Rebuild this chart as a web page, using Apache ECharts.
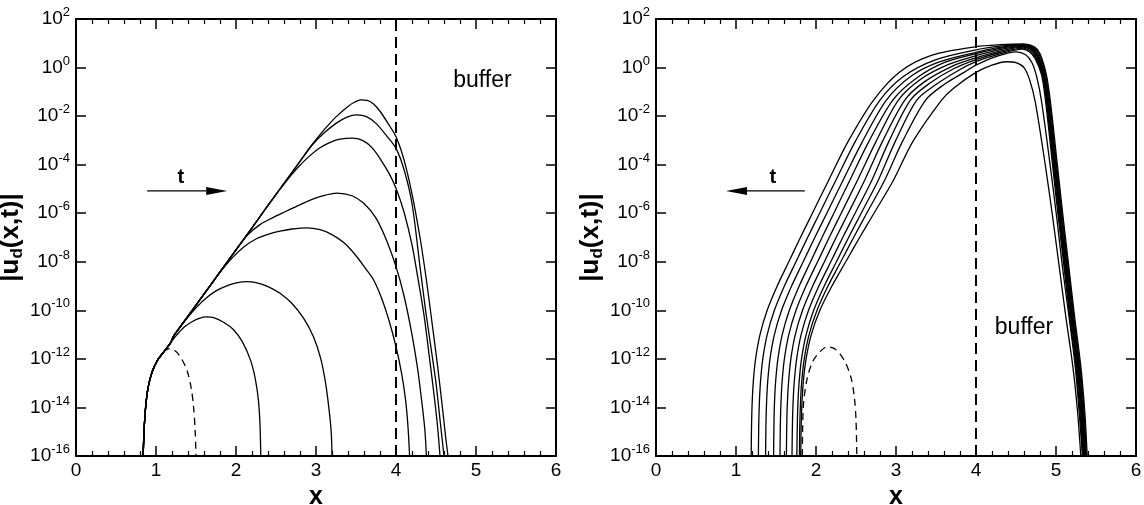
<!DOCTYPE html>
<html>
<head>
<meta charset="utf-8">
<script src="https://cdn.jsdelivr.net/npm/echarts@6/dist/echarts.min.js"></script>
<style>
  html, body { margin: 0; padding: 0; background: #fff; }
  #chart { width: 1144px; height: 505px; }
</style>
</head>
<body>
<div id="chart"></div>
<script>
// Every point is [x, log10 |u_d(x,t)|]; the y axes are drawn in decades.
const xRange = [0, 6];
const yRange = [-16, 2];
const bufferStart = 4;

// ---- left panel: initial pulse (dashed) and its growth in time ----
const leftInitial = [[0.84,-16],[0.85,-15],[0.87,-14],[0.9,-13.2],[0.95,-12.55],[1.02,-12.05],[1.1,-11.7],[1.17,-11.58],[1.25,-11.7],[1.32,-12.0],[1.39,-12.5],[1.44,-13.2],[1.47,-14.0],[1.49,-15.0],[1.5,-16]];

const leftT1 = [[0.84,-16],[0.85,-15],[0.87,-14],[0.9,-13.2],[0.95,-12.55],[1.02,-12.05],[1.1,-11.7],[1.18,-11.35],[1.25,-11.05],[1.35,-10.7],[1.45,-10.47],[1.55,-10.32],[1.63,-10.27],[1.72,-10.3],[1.85,-10.5],[1.97,-10.8],[2.08,-11.3],[2.18,-12.04],[2.24,-12.8],[2.28,-13.7],[2.3,-14.7],[2.31,-16]];

const leftT2 = [[0.84,-16],[0.85,-15],[0.87,-14],[0.9,-13.2],[0.95,-12.55],[1.02,-12.05],[1.1,-11.7],[1.18,-11.35],[1.22,-11.06],[1.3,-10.7],[1.4,-10.28],[1.5,-9.9],[1.6,-9.57],[1.75,-9.2],[1.9,-8.97],[2.02,-8.86],[2.13,-8.82],[2.25,-8.86],[2.4,-9.02],[2.55,-9.3],[2.7,-9.72],[2.85,-10.35],[2.97,-11.1],[3.06,-12.0],[3.12,-13.0],[3.16,-14.0],[3.19,-15.0],[3.2,-16]];

const leftT3 = [[0.84,-16],[0.85,-15],[0.87,-14],[0.9,-13.2],[0.95,-12.55],[1.02,-12.05],[1.1,-11.7],[1.18,-11.35],[1.22,-11.06],[1.4,-10.24],[1.6,-9.33],[1.8,-8.44],[1.95,-7.85],[2.1,-7.38],[2.25,-7.06],[2.4,-6.87],[2.55,-6.74],[2.7,-6.65],[2.88,-6.6],[3.05,-6.68],[3.2,-6.88],[3.35,-7.22],[3.5,-7.75],[3.62,-8.28],[3.72,-8.75],[3.82,-9.5],[3.92,-10.5],[4.0,-11.5],[4.07,-12.6],[4.12,-13.7],[4.15,-14.8],[4.17,-16]];

const leftT4 = [[0.84,-16],[0.85,-15],[0.87,-14],[0.9,-13.2],[0.95,-12.55],[1.02,-12.05],[1.1,-11.7],[1.18,-11.35],[1.22,-11.06],[1.4,-10.24],[1.6,-9.33],[1.8,-8.42],[2.0,-7.51],[2.15,-6.88],[2.3,-6.47],[2.45,-6.2],[2.6,-5.96],[2.75,-5.73],[2.9,-5.5],[3.05,-5.32],[3.26,-5.17],[3.45,-5.28],[3.6,-5.6],[3.75,-6.2],[3.88,-7.1],[4.0,-8.2],[4.1,-9.4],[4.2,-11.0],[4.27,-12.4],[4.32,-13.7],[4.36,-14.9],[4.38,-16]];

const leftT5 = [[0.84,-16],[0.85,-15],[0.87,-14],[0.9,-13.2],[0.95,-12.55],[1.02,-12.05],[1.1,-11.7],[1.18,-11.35],[1.22,-11.06],[1.4,-10.24],[1.6,-9.33],[1.8,-8.42],[2.0,-7.51],[2.2,-6.6],[2.4,-5.68],[2.6,-4.8],[2.75,-4.2],[2.9,-3.7],[3.05,-3.3],[3.2,-3.05],[3.32,-2.94],[3.45,-2.91],[3.58,-3.0],[3.7,-3.3],[3.82,-3.85],[3.92,-4.4],[4.0,-4.97],[4.1,-5.95],[4.2,-7.3],[4.27,-8.6],[4.35,-10.2],[4.42,-12.0],[4.48,-13.6],[4.52,-14.8],[4.55,-16]];

const leftT6 = [[0.84,-16],[0.85,-15],[0.87,-14],[0.9,-13.2],[0.95,-12.55],[1.02,-12.05],[1.1,-11.7],[1.18,-11.35],[1.22,-11.06],[1.4,-10.24],[1.6,-9.33],[1.8,-8.42],[2.0,-7.51],[2.2,-6.6],[2.4,-5.68],[2.6,-4.77],[2.8,-3.86],[2.95,-3.2],[3.1,-2.7],[3.25,-2.3],[3.38,-2.05],[3.51,-1.95],[3.63,-2.02],[3.75,-2.3],[3.88,-2.8],[4.0,-3.33],[4.1,-4.2],[4.2,-5.6],[4.3,-8.2],[4.37,-10.0],[4.44,-11.6],[4.5,-13.0],[4.55,-14.5],[4.6,-16]];

const leftT7 = [[0.84,-16],[0.85,-15],[0.87,-14],[0.9,-13.2],[0.95,-12.55],[1.02,-12.05],[1.1,-11.7],[1.18,-11.35],[1.22,-11.06],[1.4,-10.24],[1.6,-9.33],[1.8,-8.42],[2.0,-7.51],[2.2,-6.6],[2.4,-5.68],[2.6,-4.77],[2.8,-3.86],[2.95,-3.18],[3.1,-2.57],[3.25,-2.03],[3.4,-1.6],[3.48,-1.43],[3.56,-1.33],[3.64,-1.35],[3.72,-1.5],[3.8,-1.8],[3.9,-2.3],[4.0,-2.85],[4.1,-3.8],[4.2,-5.2],[4.3,-7.0],[4.38,-8.75],[4.45,-10.5],[4.52,-12.3],[4.58,-14.0],[4.62,-15.2],[4.65,-16]];

// ---- right panel: initial pulse (dashed) and the curves at later times ----
const rightInitial = [[1.83,-16],[1.832,-15],[1.845,-13.8],[1.89,-12.8],[1.96,-12.1],[2.05,-11.7],[2.14,-11.5],[2.25,-11.62],[2.36,-12.1],[2.44,-12.8],[2.48,-13.6],[2.5,-14.5],[2.51,-16]];

const rightT1 = [[1.81,-16],[1.813,-15],[1.822,-14],[1.84,-13],[1.876,-12],[1.941,-11],[2.049,-10],[2.199,-9],[2.372,-8],[2.545,-7],[2.725,-6],[2.97,-4.63],[3.21,-3.05],[3.57,-1.34],[3.72,-0.85],[4.0,-0.2],[4.2,0.1],[4.38,0.24],[4.5,0.2],[4.6,0.0],[4.67,-0.5],[4.74,-1.4],[4.87,-4.1],[4.96,-6.2],[5.04,-8.2],[5.12,-10.2],[5.21,-12.3],[5.27,-14.2],[5.31,-16]];

const rightT2 = [[1.793,-16],[1.796,-15],[1.804,-14],[1.82,-13],[1.853,-12],[1.914,-11],[2.013,-10],[2.15,-9],[2.31,-8],[2.47,-7],[2.634,-6],[2.86,-4.63],[3.08,-3.05],[3.37,-1.34],[3.6,-0.7],[3.85,-0.2],[4.0,0.1],[4.25,0.45],[4.5,0.65],[4.62,0.53],[4.7,0.2],[4.76,-0.4],[4.82,-1.4],[4.93,-4.1],[5.01,-6.2],[5.08,-8.2],[5.16,-10.2],[5.24,-12.3],[5.29,-14.2],[5.33,-16]];

const rightT3 = [[1.76,-16],[1.765,-15],[1.772,-14],[1.788,-13],[1.819,-12],[1.877,-11],[1.971,-10],[2.103,-9],[2.255,-8],[2.407,-7],[2.565,-6],[2.78,-4.63],[2.99,-3.05],[3.26,-1.34],[3.5,-0.7],[3.78,-0.12],[4.0,0.24],[4.3,0.56],[4.58,0.76],[4.67,0.64],[4.74,0.36],[4.82,-0.3],[4.87,-1.4],[4.96,-4.1],[5.03,-6.2],[5.1,-8.2],[5.17,-10.2],[5.25,-12.3],[5.3,-14.2],[5.34,-16]];

const rightT4 = [[1.7,-16],[1.704,-15],[1.711,-14],[1.727,-13],[1.758,-12],[1.814,-11],[1.907,-10],[2.036,-9],[2.185,-8],[2.334,-7],[2.489,-6],[2.7,-4.63],[2.91,-3.05],[3.18,-1.34],[3.42,-0.65],[3.72,-0.05],[4.0,0.33],[4.3,0.62],[4.59,0.8],[4.68,0.68],[4.75,0.4],[4.83,-0.3],[4.88,-1.4],[4.97,-4.1],[5.04,-6.2],[5.11,-8.2],[5.18,-10.2],[5.26,-12.3],[5.31,-14.2],[5.345,-16]];

const rightT5 = [[1.63,-16],[1.633,-15],[1.64,-14],[1.656,-13],[1.686,-12],[1.741,-11],[1.832,-10],[1.959,-9],[2.105,-8],[2.251,-7],[2.403,-6],[2.61,-4.63],[2.83,-3.05],[3.11,-1.34],[3.35,-0.6],[3.7,0.05],[4.0,0.4],[4.3,0.68],[4.59,0.84],[4.69,0.72],[4.76,0.44],[4.84,-0.3],[4.89,-1.4],[4.98,-4.1],[5.05,-6.2],[5.12,-8.2],[5.19,-10.2],[5.27,-12.3],[5.32,-14.2],[5.35,-16]];

const rightT6 = [[1.55,-16],[1.553,-15],[1.56,-14],[1.575,-13],[1.605,-12],[1.66,-11],[1.75,-10],[1.875,-9],[2.02,-8],[2.165,-7],[2.315,-6],[2.52,-4.63],[2.75,-3.05],[3.03,-1.34],[3.3,-0.5],[3.65,0.12],[4.0,0.49],[4.3,0.74],[4.59,0.87],[4.7,0.75],[4.765,0.47],[4.845,-0.3],[4.895,-1.4],[4.985,-4.1],[5.055,-6.2],[5.125,-8.2],[5.195,-10.2],[5.275,-12.3],[5.325,-14.2],[5.36,-16]];

const rightT7 = [[1.47,-16],[1.473,-15],[1.479,-14],[1.494,-13],[1.524,-12],[1.578,-11],[1.667,-10],[1.79,-9],[1.932,-8],[2.075,-7],[2.223,-6],[2.425,-4.63],[2.66,-3.05],[2.96,-1.34],[3.25,-0.45],[3.6,0.2],[4.0,0.57],[4.3,0.79],[4.59,0.9],[4.7,0.78],[4.77,0.5],[4.85,-0.3],[4.9,-1.4],[4.99,-4.1],[5.06,-6.2],[5.13,-8.2],[5.2,-10.2],[5.28,-12.3],[5.33,-14.2],[5.365,-16]];

const rightT8 = [[1.37,-16],[1.373,-15],[1.38,-14],[1.395,-13],[1.425,-12],[1.48,-11],[1.57,-10],[1.695,-9],[1.84,-8],[1.985,-7],[2.135,-6],[2.34,-4.63],[2.58,-3.05],[2.88,-1.34],[3.2,-0.33],[3.55,0.24],[4.0,0.63],[4.3,0.83],[4.59,0.92],[4.71,0.8],[4.78,0.52],[4.86,-0.3],[4.91,-1.4],[5.0,-4.1],[5.07,-6.2],[5.14,-8.2],[5.21,-10.2],[5.29,-12.3],[5.34,-14.2],[5.37,-16]];

const rightT9 = [[1.28,-16],[1.283,-15],[1.29,-14],[1.305,-13],[1.335,-12],[1.39,-11],[1.48,-10],[1.605,-9],[1.75,-8],[1.895,-7],[2.045,-6],[2.25,-4.63],[2.49,-3.05],[2.8,-1.34],[3.1,-0.35],[3.5,0.33],[4.0,0.73],[4.3,0.88],[4.59,0.945],[4.72,0.82],[4.79,0.55],[4.87,-0.3],[4.92,-1.4],[5.01,-4.1],[5.08,-6.2],[5.15,-8.2],[5.22,-10.2],[5.3,-12.3],[5.35,-14.2],[5.38,-16]];

const rightT10 = [[1.19,-16],[1.193,-15],[1.2,-14],[1.215,-13],[1.245,-12],[1.3,-11],[1.39,-10],[1.515,-9],[1.66,-8],[1.805,-7],[1.955,-6],[2.16,-4.63],[2.4,-3.05],[2.72,-1.34],[3.05,-0.17],[3.46,0.52],[4.0,0.86],[4.3,0.94],[4.59,0.97],[4.73,0.85],[4.8,0.57],[4.88,-0.3],[4.93,-1.4],[5.02,-4.1],[5.09,-6.2],[5.16,-8.2],[5.23,-10.2],[5.31,-12.3],[5.36,-14.2],[5.39,-16]];

const leftCurves = [leftT1, leftT2, leftT3, leftT4, leftT5, leftT6, leftT7];
const rightCurves = [rightT1, rightT2, rightT3, rightT4, rightT5, rightT6, rightT7, rightT8, rightT9, rightT10];

// annotations, in data coordinates of each panel
const timeArrowLeft = [[0.89, -5.08], [1.89, -5.08]];
const timeArrowRight = [[1.86, -5.08], [0.875, -5.08]];
const timeLabelLeft = [1.31, -4.52];
const timeLabelRight = [1.46, -4.52];
const bufferLabelLeft = [5.08, -0.53];
const bufferLabelRight = [4.6, -10.70];

const FONT = '"Liberation Sans", Arial, Helvetica, sans-serif';
const INK = '#000';

const chart = echarts.init(document.getElementById('chart'), null, { renderer: 'canvas' });

function xAxisPair(g) {
  const common = {
    type: 'value', gridIndex: g, min: xRange[0], max: xRange[1], interval: 1,
    axisLine: { onZero: false, lineStyle: { color: INK, width: 2 } },
    axisTick: { inside: true, length: 10, lineStyle: { color: INK, width: 1.5 } },
    minorTick: { show: true, splitNumber: 5, length: 5, lineStyle: { color: INK, width: 1.2 } },
    splitLine: { show: false }, minorSplitLine: { show: false }
  };
  return [
    Object.assign({}, common, {
      position: 'bottom',
      axisLabel: { color: INK, fontSize: 19, fontFamily: FONT, margin: 5 },
      name: 'x', nameLocation: 'middle', nameGap: 23,
      nameTextStyle: { color: INK, fontSize: 25, fontWeight: 'bold', fontFamily: FONT }
    }),
    Object.assign({}, common, { position: 'top', axisLabel: { show: false } })
  ];
}

function yAxisPair(g) {
  const common = {
    type: 'value', gridIndex: g, min: yRange[0], max: yRange[1], interval: 2,
    axisLine: { onZero: false, lineStyle: { color: INK, width: 2 } },
    axisTick: { inside: true, length: 10, lineStyle: { color: INK, width: 1.5 } },
    splitLine: { show: false }
  };
  return [
    Object.assign({}, common, {
      position: 'left',
      axisLabel: {
        margin: 6,
        formatter: v => '{b|10}{e|' + v + '}',
        rich: {
          b: { fontSize: 19, lineHeight: 26, fontFamily: FONT, color: INK },
          e: { fontSize: 13, lineHeight: 14, verticalAlign: 'top', fontFamily: FONT, color: INK }
        }
      },
      name: '{a||u}{s|d}{a|(x,t)|}', nameLocation: 'middle', nameGap: 42, nameRotate: 90,
      nameTextStyle: {
        color: INK,
        rich: {
          a: { fontSize: 26, fontWeight: 'bold', lineHeight: 30, fontFamily: FONT, color: INK },
          s: { fontSize: 17, fontWeight: 'bold', lineHeight: 16, verticalAlign: 'bottom', fontFamily: FONT, color: INK }
        }
      }
    }),
    Object.assign({}, common, { position: 'right', axisLabel: { show: false } })
  ];
}

function curve(data, g, dashed) {
  return {
    type: 'line', xAxisIndex: 2 * g, yAxisIndex: 2 * g, data: data,
    symbol: 'none', showSymbol: false, smooth: 0.3,
    lineStyle: { color: INK, width: 1.3, type: dashed ? [7, 5] : 'solid' },
    emphasis: { disabled: true }, silent: true, animation: false
  };
}

function bufferLine() {
  return {
    silent: true, symbol: ['none', 'none'], animation: false,
    label: { show: false },
    lineStyle: { color: INK, width: 2, type: [11, 6] },
    emphasis: { disabled: true },
    data: [{ xAxis: bufferStart }]
  };
}

const series = [];
const leftDash = curve(leftInitial, 0, true);
leftDash.markLine = bufferLine();
series.push(leftDash);
leftCurves.forEach(c => series.push(curve(c, 0, false)));
const rightDash = curve(rightInitial, 1, true);
rightDash.markLine = bufferLine();
series.push(rightDash);
rightCurves.forEach(c => series.push(curve(c, 1, false)));

chart.setOption({
  animation: false,
  backgroundColor: '#fff',
  grid: [
    { left: 76, top: 19, width: 480, height: 437, containLabel: false, outerBoundsMode: 'none' },
    { left: 656, top: 19, width: 480, height: 437, containLabel: false, outerBoundsMode: 'none' }
  ],
  xAxis: [].concat(xAxisPair(0), xAxisPair(1)),
  yAxis: [].concat(yAxisPair(0), yAxisPair(1)),
  series: series
});

// arrows and text labels placed through the panel coordinate systems
function toPx(g, p) {
  return chart.convertToPixel({ xAxisIndex: 2 * g, yAxisIndex: 2 * g }, p);
}
function arrow(g, seg) {
  const a = toPx(g, seg[0]), b = toPx(g, seg[1]);
  const dir = b[0] > a[0] ? 1 : -1;
  const headLen = 21, half = 4;
  const base = b[0] - dir * headLen;
  return [
    { type: 'line', shape: { x1: a[0], y1: a[1], x2: base, y2: b[1] }, style: { stroke: INK, lineWidth: 1.3 }, silent: true },
    { type: 'polygon', shape: { points: [[b[0], b[1]], [base, b[1] - half], [base, b[1] + half]] }, style: { fill: INK }, silent: true }
  ];
}
function label(g, p, text, size, weight) {
  const q = toPx(g, p);
  return {
    type: 'text', x: q[0], y: q[1], silent: true,
    style: {
      text: text, fill: INK, fontSize: size, fontWeight: weight, fontFamily: FONT,
      align: 'center', verticalAlign: 'middle', textAlign: 'center', textVerticalAlign: 'middle'
    }
  };
}

chart.setOption({
  graphic: [].concat(
    arrow(0, timeArrowLeft),
    arrow(1, timeArrowRight),
    [
      label(0, timeLabelLeft, 't', 20, 'bold'),
      label(1, timeLabelRight, 't', 20, 'bold'),
      label(0, bufferLabelLeft, 'buffer', 23, 'normal'),
      label(1, bufferLabelRight, 'buffer', 23, 'normal')
    ]
  )
});
</script>
</body>
</html>
